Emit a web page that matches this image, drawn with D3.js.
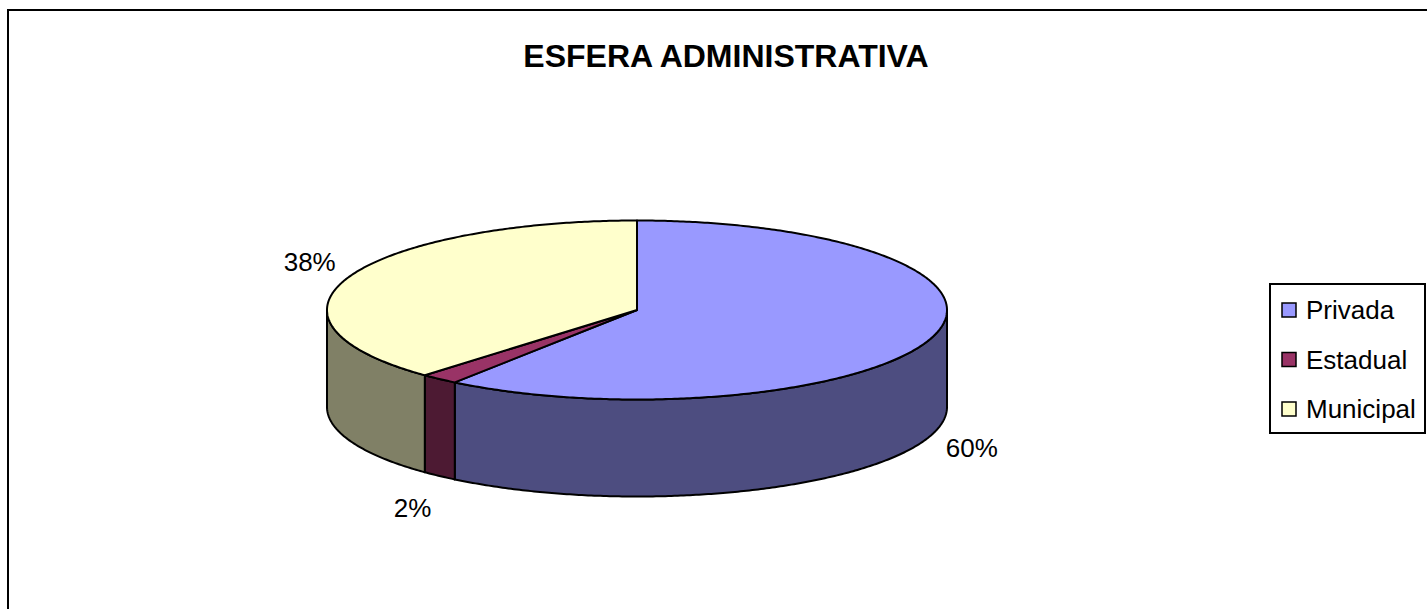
<!DOCTYPE html>
<html>
<head>
<meta charset="utf-8">
<script src="https://cdn.jsdelivr.net/npm/d3@7.9.0/dist/d3.min.js"></script>
<style>
  html, body { margin: 0; padding: 0; background: #fff; }
  svg { display: block; font-family: "Liberation Sans", Arial, sans-serif; }
</style>
</head>
<body>
<svg id="chart" width="1427" height="609"></svg>
<script>
// ----- data -----
const categories = ["Privada", "Estadual", "Municipal"];
const shares = [60, 2, 38];
const labels = ["60%", "2%", "38%"];
const topColors = ["#9999FF", "#993366", "#FFFFCC"];
const sideColors = ["#4D4D80", "#4D1A33", "#808066"];

const svg = d3.select("#chart");

// chart frame (runs off right/bottom like the original)
svg.append("rect")
  .attr("x", 8).attr("y", 10)
  .attr("width", 1440).attr("height", 620)
  .attr("fill", "#fff")
  .attr("stroke", "#000")
  .attr("stroke-width", 2);

// title
svg.append("text")
  .attr("x", 726).attr("y", 67)
  .attr("text-anchor", "middle")
  .style("font-size", "32px")
  .style("font-weight", "bold")
  .text("ESFERA ADMINISTRATIVA");

// ----- 3D pie geometry -----
const cx = 637, cy = 310;
const rx = 310, ry = 89.5, depth = 97;

// point on the rim for a d3 angle (clockwise from 12 o'clock)
const rim = (a, dy = 0) => [cx + rx * Math.sin(a), cy - ry * Math.cos(a) + dy];

const pie = d3.pie().sort(null).value(d => d);
const arcs = pie(shares).map((d, i) => ({ ...d, i }));

const g = svg.append("g");

// outer walls: only the front half (PI/2 .. 3PI/2) can be seen
const front0 = Math.PI / 2, front1 = 3 * Math.PI / 2;
const line = d3.line();

arcs.forEach(d => {
  const a0 = Math.max(d.startAngle, front0);
  const a1 = Math.min(d.endAngle, front1);
  if (a1 <= a0) return;
  const n = Math.max(2, Math.ceil((a1 - a0) / 0.01));
  const steps = d3.range(n + 1).map(k => a0 + (a1 - a0) * k / n);
  const pts = steps.map(a => rim(a))
    .concat(steps.slice().reverse().map(a => rim(a, depth)));
  g.append("path")
    .attr("d", line(pts) + "Z")
    .attr("fill", sideColors[d.i])
    .attr("stroke", "#000")
    .attr("stroke-width", 2)
    .attr("stroke-linejoin", "round");
});

// top faces
arcs.forEach(d => {
  const n = Math.max(2, Math.ceil((d.endAngle - d.startAngle) / 0.01));
  const steps = d3.range(n + 1).map(k => d.startAngle + (d.endAngle - d.startAngle) * k / n);
  const pts = [[cx, cy]].concat(steps.map(a => rim(a)));
  g.append("path")
    .attr("d", line(pts) + "Z")
    .attr("fill", topColors[d.i])
    .attr("stroke", "#000")
    .attr("stroke-width", 2)
    .attr("stroke-linejoin", "round");
});

// percentage labels, pushed out from the rim along the mid angle
arcs.forEach(d => {
  const mid = (d.startAngle + d.endAngle) / 2;
  const lower = Math.cos(mid) < 0;
  const [px, py] = rim(mid, lower ? depth : 0);
  const off = 42;
  svg.append("text")
    .attr("x", px + off * Math.sin(mid))
    .attr("y", py - off * Math.cos(mid))
    .attr("dy", "0.35em")
    .attr("text-anchor", "middle")
    .style("font-size", "26px")
    .text(labels[d.i]);
});

// ----- legend -----
const legend = svg.append("g");
legend.append("rect")
  .attr("x", 1270).attr("y", 284)
  .attr("width", 155).attr("height", 149)
  .attr("fill", "#fff")
  .attr("stroke", "#000")
  .attr("stroke-width", 2);

const rowY = d3.scalePoint().domain(categories).range([310, 409]);

categories.forEach((c, i) => {
  legend.append("rect")
    .attr("x", 1282).attr("y", rowY(c) - 7)
    .attr("width", 14).attr("height", 14)
    .attr("fill", topColors[i])
    .attr("stroke", "#000")
    .attr("stroke-width", 1.5);
  legend.append("text")
    .attr("x", 1306).attr("y", rowY(c))
    .attr("dy", "0.35em")
    .style("font-size", "26px")
    .text(c);
});
</script>
</body>
</html>
